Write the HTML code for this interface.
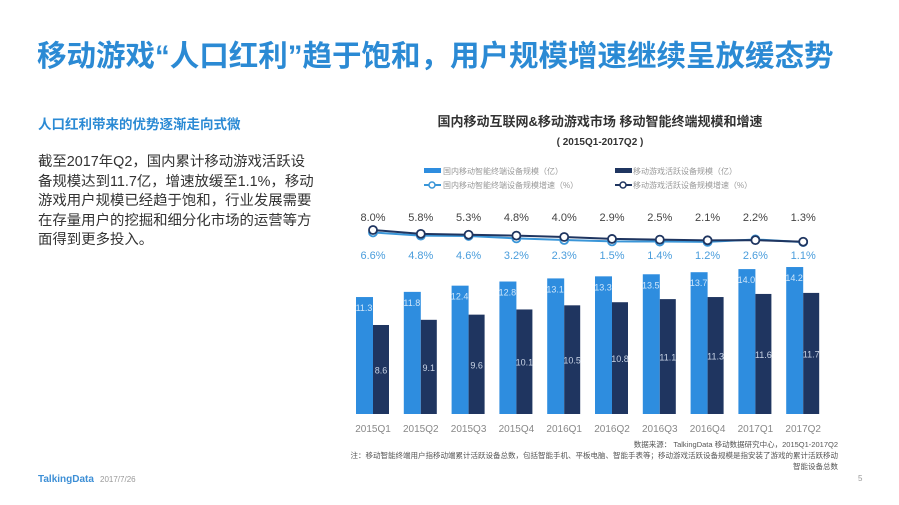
<!DOCTYPE html>
<html><head><meta charset="utf-8"><style>
body{margin:0;width:899px;height:505px;background:#fff;position:relative;overflow:hidden;font-family:"Liberation Sans","Noto Sans CJK SC",sans-serif}
.a{position:absolute;white-space:nowrap}
</style></head><body>
<div class="a" style="left:37px;top:33px;font-size:29.5px;font-weight:bold;color:#2b8ad4;letter-spacing:0px">移动游戏“人口红利”趋于饱和，用户规模增速继续呈放缓态势</div>
<div class="a" style="left:38px;top:113px;font-size:13.5px;font-weight:bold;color:#2b8ad4">人口红利带来的优势逐渐走向式微</div>
<div class="a" style="left:38px;top:153px;font-size:14.4px;line-height:19.6px;color:#333">截至2017年Q2，国内累计移动游戏活跃设<br>备规模达到11.7亿，增速放缓至1.1%，移动<br>游戏用户规模已经趋于饱和，行业发展需要<br>在存量用户的挖掘和细分化市场的运营等方<br>面得到更多投入。</div>
<div class="a" style="left:38px;top:474px;font-size:10px;font-weight:bold;color:#3d8fd6">TalkingData</div>
<div class="a" style="left:100px;top:475px;font-size:8px;color:#999">2017/7/26</div>
<div class="a" style="left:858px;top:474px;font-size:8px;color:#999">5</div>
<svg id="c" width="899" height="505" style="position:absolute;left:0;top:0">
<text x="600" y="126" text-anchor="middle" font-size="13" font-weight="bold" fill="#333">国内移动互联网&amp;移动游戏市场  移动智能终端规模和增速</text>
<text x="600" y="145" text-anchor="middle" font-size="10" font-weight="bold" fill="#333">( 2015Q1-2017Q2 )</text>
<g font-size="8" fill="#999">
<g><rect x="424" y="168" width="17" height="5" fill="#2e8ddf"/><text x="443" y="174">国内移动智能终端设备规模（亿）</text></g>
<g><rect x="615" y="168" width="17" height="5" fill="#1f3560"/><text x="633" y="174">移动游戏活跃设备规模（亿）</text></g>
<g><line x1="424" y1="185" x2="441" y2="185" stroke="#3a96d8" stroke-width="2"/><circle cx="432" cy="185" r="3" fill="#fff" stroke="#3a96d8" stroke-width="1.5"/><text x="443" y="188">国内移动智能终端设备规模增速（%）</text></g>
<g><line x1="615" y1="185" x2="632" y2="185" stroke="#1f3560" stroke-width="2"/><circle cx="623" cy="185" r="3" fill="#fff" stroke="#1f3560" stroke-width="1.5"/><text x="633" y="188">移动游戏活跃设备规模增速（%）</text></g>
</g>
<g id="marks"></g>
<g font-size="7.5" fill="#555" text-anchor="end">
<text x="838" y="447">数据来源： TalkingData 移动数据研究中心，2015Q1-2017Q2</text>
<text x="838" y="458">注：移动智能终端用户指移动端累计活跃设备总数，包括智能手机、平板电脑、智能手表等；移动游戏活跃设备规模是指安装了游戏的累计活跃移动</text>
<text x="838" y="469">智能设备总数</text>
</g>
</svg>
<script>
const categories=["2015Q1","2015Q2","2015Q3","2015Q4","2016Q1","2016Q2","2016Q3","2016Q4","2017Q1","2017Q2"];
const deviceSize=[11.3,11.8,12.4,12.8,13.1,13.3,13.5,13.7,14.0,14.2];
const gameSize=[8.6,9.1,9.6,10.1,10.5,10.8,11.1,11.3,11.6,11.7];
const deviceGrowth=[6.6,4.8,4.6,3.2,2.3,1.5,1.4,1.2,2.6,1.1];
const gameGrowth=[8.0,5.8,5.3,4.8,4.0,2.9,2.5,2.1,2.2,1.3];
const NS="http://www.w3.org/2000/svg";
const g=document.getElementById('marks');
const xC=i=>373+i*47.8;
const yB=v=>414-v*10.35;
const yL=v=>244-v*1.75;
function mk(t,a,p){const e=document.createElementNS(NS,t);for(const k in a)e.setAttribute(k,a[k]);(p||g).appendChild(e);return e;}
categories.forEach((c,i)=>{
  const x=xC(i);
  const b1=mk('rect',{x:x-17,y:yB(deviceSize[i]),width:17,height:414-yB(deviceSize[i]),fill:'#2e8ddf'});
  
  
  const b2=mk('rect',{x:x,y:yB(gameSize[i]),width:16,height:414-yB(gameSize[i]),fill:'#1f3560'});
  
  
  const t1=mk('text',{x:x-9,y:yB(deviceSize[i])+14,'text-anchor':'middle','font-size':9,fill:'#cfe6fa'});t1.textContent=deviceSize[i].toFixed(1);
  
  
  const t2=mk('text',{x:x+8,y:yB(gameSize[i]/2)+4,'text-anchor':'middle','font-size':9,fill:'#c9d4e6'});t2.textContent=gameSize[i].toFixed(1);
  
  
  const tx=mk('text',{x:x,y:432,'text-anchor':'middle','font-size':10,fill:'#888'});tx.textContent=c;
  
  
});
function line(vals,col,name,lblY,lblCol){
  const p=mk('polyline',{points:vals.map((v,i)=>xC(i)+','+yL(v)).join(' '),fill:'none',stroke:col,'stroke-width':2});
  
  
  vals.forEach((v,i)=>{
    const c=mk('circle',{cx:xC(i),cy:yL(v),r:4,fill:'#fff',stroke:col,'stroke-width':1.8});
    
    
    const t=mk('text',{x:xC(i),y:lblY,'text-anchor':'middle','font-size':11,fill:lblCol});t.textContent=v.toFixed(1)+'%';
    
    
  });
}
line(deviceGrowth,'#3a96d8','line-device-growth',259,'#4a9ddc');
line(gameGrowth,'#1f3560','line-game-growth',221,'#444');
</script>
</body></html>
